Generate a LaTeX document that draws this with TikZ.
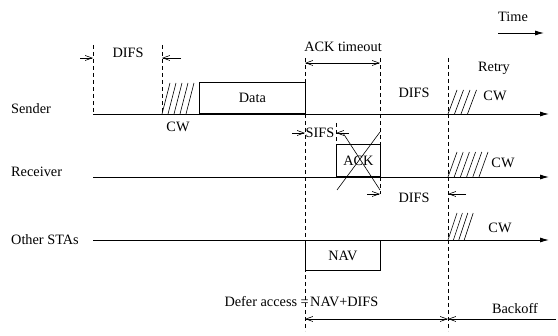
\documentclass[tikz,border=0pt]{standalone}
\usepackage{fontspec}
\setmainfont{Liberation Serif}
\usetikzlibrary{arrows.meta}
\begin{document}
\begin{tikzpicture}[x=1pt,y=-1pt,
  font=\fontsize{14.3}{16}\selectfont,
  axis/.style={line width=0.9pt,-{Latex[length=9pt,width=5pt]}},
  guide/.style={line width=0.6pt,dash pattern=on 4pt off 3pt},
  dimr/.style={line width=0.6pt,-{Straight Barb[length=7pt,width=5pt]}},
  dimb/.style={line width=0.6pt,{Straight Barb[length=7pt,width=5pt]}-{Straight Barb[length=7pt,width=5pt]}},
  box/.style={draw,line width=0.8pt,inner sep=0pt},
  hatch/.style={line width=0.6pt},
  lbl/.style={inner sep=0pt}]
\useasboundingbox (0,0) rectangle (558,336);

% --- row labels ---
\node[lbl,anchor=west] (sender) at (11,109) {Sender};
\node[lbl,anchor=west] (receiver) at (11,172) {Receiver};
\node[lbl,anchor=west] (other) at (11,240) {Other STAs};

% --- time axes ---
\coordinate (s0) at (93,114);  \coordinate (s1) at (549,114);
\coordinate (r0) at (93,177);  \coordinate (r1) at (549,177);
\coordinate (o0) at (93,240);  \coordinate (o1) at (549,240);
\draw[axis] (s0) -- (s1);
\draw[axis] (r0) -- (r1);
\draw[axis] (o0) -- (o1);

% --- Time arrow ---
\node[lbl] (time) at (513,17) {Time};
\coordinate (t0) at (498,33); \coordinate (t1) at (544,33);
\draw[axis] (t0) -- (t1);

% --- dashed guides ---
\coordinate (ga0) at (93,45);  \coordinate (ga1) at (93,114);
\coordinate (gb0) at (162,45); \coordinate (gb1) at (162,114);
\coordinate (gc0) at (305,58); \coordinate (gc1) at (305,331);
\coordinate (gd0) at (336,123);\coordinate (gd1) at (336,145);
\coordinate (ge0) at (380,58); \coordinate (ge1) at (380,194);
\coordinate (gf0) at (448,58); \coordinate (gf1) at (448,331);
\draw[guide] (ga0) -- (ga1);
\draw[guide] (gb0) -- (gb1);
\draw[guide] (gc0) -- (gc1);
\draw[guide] (gd0) -- (gd1);
\draw[guide] (ge0) -- (ge1);
\draw[guide] (gf0) -- (gf1);

% --- DIFS (top) ---
\node[lbl] (difs1) at (128,53) {DIFS};
\coordinate (d1a) at (80,58);  \coordinate (d1b) at (93,58);
\coordinate (d1c) at (181,58); \coordinate (d1d) at (162,58);
\draw[dimr] (d1a) -- (d1b);
\draw[dimr] (d1c) -- (d1d);

% --- sender CW hatch and Data ---
\foreach \i in {0,...,4}
  \draw[hatch] (162+6*\i,114) -- (170+6*\i,83);
\node[lbl] (cw1) at (178,127) {CW};
\node[box,minimum width=106pt,minimum height=31pt,anchor=south west] (data) at (199,114) {};
\node[lbl] (datat) at (data.center) {Data};

% --- ACK timeout ---
\node[lbl] (acktime) at (343,47) {ACK timeout};
\coordinate (at0) at (305,63); \coordinate (at1) at (380,63);
\draw[dimb] (at0) -- (at1);

% --- sender retry ---
\node[lbl] (retry) at (494,68) {Retry};
\node[lbl] (difs2) at (414,93) {DIFS};
\foreach \i in {0,...,3}
  \draw[hatch] (448+6.5*\i,114) -- (457+6.5*\i,90);
\node[lbl] (cw2) at (495,96) {CW};

% --- SIFS ---
\node[lbl] (sifs) at (320,133) {SIFS};
\coordinate (sf0) at (292,133); \coordinate (sf1) at (305,133);
\coordinate (sf2) at (349,133); \coordinate (sf3) at (336,133);
\draw[dimr] (sf0) -- (sf1);
\draw[dimr] (sf2) -- (sf3);

% --- ACK (lost) ---
\node[box,minimum width=44pt,minimum height=32pt,anchor=south west] (ack) at (336,177) {};
\node[lbl] (ackt) at (ack.center) {ACK};
\coordinate (x0) at (343,133); \coordinate (x1) at (380,190);
\coordinate (x2) at (337,190); \coordinate (x3) at (380,132);
\draw[line width=0.6pt] (x0) -- (x1);
\draw[line width=0.6pt] (x2) -- (x3);

% --- receiver CW ---
\foreach \i in {0,...,5}
  \draw[hatch] (448+6.2*\i,177) -- (457+6.2*\i,152);
\node[lbl] (cw3) at (503,163) {CW};

% --- DIFS (receiver) ---
\node[lbl] (difs3) at (414,198) {DIFS};
\coordinate (d3a) at (367,194); \coordinate (d3b) at (380,194);
\coordinate (d3c) at (466,194); \coordinate (d3d) at (448,194);
\draw[dimr] (d3a) -- (d3b);
\draw[dimr] (d3c) -- (d3d);

% --- other STAs CW ---
\foreach \i in {0,...,3}
  \draw[hatch] (448+5.4*\i,240) -- (457+5.4*\i,213);
\node[lbl] (cw4) at (500,228) {CW};

% --- NAV ---
\node[box,minimum width=75pt,minimum height=30pt,anchor=north west] (nav) at (305,240) {};
\node[lbl] (navt) at (nav.center) {NAV};

% --- defer access / backoff ---
\node[lbl,anchor=east] (defer) at (309,302) {Defer access =};
\node[lbl,anchor=west] (navdifs) at (310,302) {NAV+DIFS};
\coordinate (df0) at (305,319); \coordinate (df1) at (448,319);
\draw[dimb] (df0) -- (df1);
\node[lbl] (backoff) at (515,309) {Backoff};
\coordinate (bk0) at (556,319); \coordinate (bk1) at (448,319);
\draw[dimr] (bk0) -- (bk1);
\end{tikzpicture}
\end{document}
